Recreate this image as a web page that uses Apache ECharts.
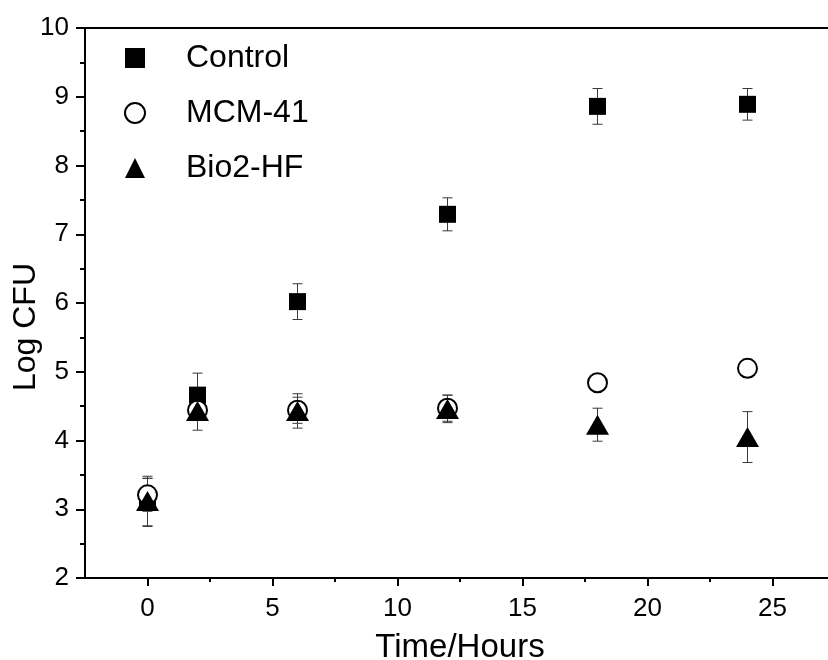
<!DOCTYPE html>
<html><head><meta charset="utf-8">
<script src="https://cdn.jsdelivr.net/npm/echarts@6/dist/echarts.min.js"></script>
<style>html,body{margin:0;padding:0;background:#fff}#c{width:828px;height:660px}</style>
</head><body><div id="c"></div>
<script>
// ---- data ----
const hours = [0, 2, 6, 12, 18, 24];
const controlMean = [3.10, 4.66, 6.02, 7.29, 8.86, 8.89];
const controlErr  = [0.35, 0.32, 0.26, 0.24, 0.26, 0.23];
const mcmMean = [3.21, 4.44, 4.44, 4.47, 4.84, 5.05];
const mcmErr  = [0.24, 0.12, 0.19, 0.19, 0.05, 0.13];
const bioMean = [3.12, 4.43, 4.43, 4.46, 4.23, 4.05];
const bioErr  = [0.36, 0.28, 0.25, 0.20, 0.24, 0.37];
const xMajorTicks = [0, 5, 10, 15, 20, 25];
const xMinorTicks = [2.5, 7.5, 12.5, 17.5, 22.5, 27.5];
const seriesNames = ['Control', 'MCM-41', 'Bio2-HF'];

const FONT = 'Liberation Sans, Arial, sans-serif';
const chart = echarts.init(document.getElementById('c'), null, {renderer: 'canvas'});

function pts(means) { return hours.map((h, i) => [h, means[i]]); }
function errSeries(name, means, errs) {
  return {
    type: 'custom', name: name, silent: true, z: 1,
    data: hours.map((h, i) => [h, means[i] - errs[i], means[i] + errs[i]]),
    renderItem: function (params, api) {
      const lo = api.coord([api.value(0), api.value(1)]);
      const hi = api.coord([api.value(0), api.value(2)]);
      const w = 5;
      const style = {stroke: '#3a3a3a', lineWidth: 1};
      return {type: 'group', children: [
        {type: 'line', shape: {x1: lo[0], y1: lo[1], x2: hi[0], y2: hi[1]}, style: style},
        {type: 'line', shape: {x1: lo[0] - w, y1: lo[1], x2: lo[0] + w, y2: lo[1]}, style: style},
        {type: 'line', shape: {x1: hi[0] - w, y1: hi[1], x2: hi[0] + w, y2: hi[1]}, style: style}
      ]};
    }
  };
}

const option = {
  animation: false,
  backgroundColor: '#fff',
  grid: {left: 85, width: 750, top: 28, height: 550, show: true, containLabel: false,
         outerBoundsMode: 'none',
         borderColor: '#000', borderWidth: 2, backgroundColor: 'transparent'},
  legend: {
    orient: 'vertical', left: 124, top: 42, padding: 0,
    itemWidth: 20, itemHeight: 20, itemGap: 23,
    textStyle: {fontFamily: FONT, fontSize: 32, color: '#000', lineHeight: 30, padding: [0, 0, 0, 36]},
    data: [
      {name: seriesNames[0], icon: 'rect'},
      {name: seriesNames[1], icon: 'circle'},
      {name: seriesNames[2], icon: 'triangle'}
    ]
  },
  xAxis: [{
    type: 'value', min: -2.5, max: 27.5,
    name: 'Time/Hours', nameLocation: 'middle', nameGap: 53,
    nameTextStyle: {fontFamily: FONT, fontSize: 33, color: '#000'},
    axisLine: {show: true, onZero: false, lineStyle: {color: '#000', width: 2}},
    axisTick: {show: true, inside: false, length: 8, lineStyle: {color: '#000', width: 2}, customValues: xMajorTicks},
    axisLabel: {fontFamily: FONT, fontSize: 26, color: '#000', margin: 18, customValues: xMajorTicks},
    splitLine: {show: false}
  }, {
    type: 'value', min: -2.5, max: 27.5, position: 'bottom', offset: 0,
    axisLine: {show: false},
    axisTick: {show: true, inside: false, length: 4, lineStyle: {color: '#000', width: 2}, customValues: xMinorTicks},
    axisLabel: {show: false},
    splitLine: {show: false}
  }],
  yAxis: {
    type: 'value', min: 2, max: 10, interval: 1,
    axisLine: {show: true, onZero: false, lineStyle: {color: '#000', width: 2}},
    axisTick: {show: true, inside: false, length: 9, lineStyle: {color: '#000', width: 2}},
    minorTick: {show: true, splitNumber: 2, length: 5, lineStyle: {color: '#000', width: 2}},
    axisLabel: {fontFamily: FONT, fontSize: 26, color: '#000', margin: 16},
    splitLine: {show: false}
  },
  graphic: [{
    type: 'text', x: 26, y: 327, rotation: Math.PI / 2,
    style: {text: 'Log CFU', font: '32px ' + FONT, fill: '#000',
            textAlign: 'center', textVerticalAlign: 'middle', align: 'center', verticalAlign: 'middle'}
  }],
  series: [
    errSeries('err-control', controlMean, controlErr),
    errSeries('err-mcm', mcmMean, mcmErr),
    errSeries('err-bio', bioMean, bioErr),
    {type: 'scatter', name: seriesNames[0], data: pts(controlMean), symbol: 'rect', symbolSize: 17,
     itemStyle: {color: '#000', opacity: 1}, z: 3},
    {type: 'scatter', name: seriesNames[1], data: pts(mcmMean), symbol: 'circle', symbolSize: 19,
     itemStyle: {color: '#fff', borderColor: '#000', borderWidth: 2, opacity: 1}, z: 3},
    {type: 'scatter', name: seriesNames[2], data: pts(bioMean), symbol: 'triangle', symbolSize: [23, 20],
     itemStyle: {color: '#000', opacity: 1}, z: 3}
  ]
};
chart.setOption(option);
</script></body></html>
